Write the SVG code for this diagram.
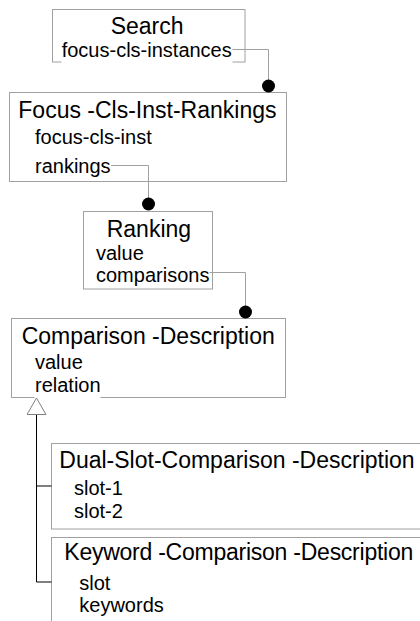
<svg xmlns="http://www.w3.org/2000/svg" width="420" height="621" viewBox="0 0 420 621">
<style>
.box{fill:#fff;stroke:#a0a0a0;stroke-width:1}
.bg{fill:#fff;stroke:none}
.t{font-family:"Liberation Sans",Arial,sans-serif;font-size:23px;fill:#000}
.a{font-family:"Liberation Sans",Arial,sans-serif;font-size:20px;fill:#000}
.conn{fill:none;stroke:#a0a0a0;stroke-width:1}
.inh{fill:none;stroke:#000;stroke-width:1}
</style>
<defs>
<marker id="dot" viewBox="0 0 14 14" refX="7" refY="7" markerWidth="14" markerHeight="14" markerUnits="userSpaceOnUse">
<circle cx="7" cy="7" r="6.5" fill="#000"/>
</marker>
<marker id="tri" viewBox="0 0 18 20" refX="0.5" refY="10" markerWidth="18" markerHeight="20" markerUnits="userSpaceOnUse" orient="auto">
<path d="M0.5 0.5 L17 10 L0.5 19.5 Z" fill="#fff" stroke="#808080" stroke-width="1"/>
</marker>
</defs>
<g id="search">
<rect class="box" x="52.5" y="9.5" width="192.5" height="52.5"/>
<text class="t" x="110.7" y="34.3">Search</text>
<rect class="bg" x="61.5" y="41" width="171" height="22"/>
<text class="a" x="61.7" y="57.3">focus-cls-instances</text>
</g>
<g id="focus-cls-inst-rankings">
<rect class="box" x="9.5" y="92.5" width="277" height="89"/>
<text class="t" x="18.3" y="118.3">Focus -Cls-Inst-Rankings</text>
<text class="a" x="35" y="144.3">focus-cls-inst</text>
<text class="a" x="35" y="173.3">rankings</text>
</g>
<g id="ranking">
<rect class="box" x="83.5" y="211.5" width="129" height="77.5"/>
<text class="t" x="106.7" y="236.7">Ranking</text>
<text class="a" x="96" y="260">value</text>
<text class="a" x="96" y="281.7">comparisons</text>
</g>
<g id="comparison-description">
<rect class="box" x="11.5" y="318.5" width="274" height="79"/>
<text class="t" x="21.7" y="344.3">Comparison -Description</text>
<text class="a" x="35" y="369.3">value</text>
<rect class="bg" x="34.5" y="376" width="66" height="23"/>
<text class="a" x="35" y="391.7">relation</text>
</g>
<g id="dual-slot-comparison-description">
<rect class="box" x="51.5" y="443.5" width="400" height="85.5"/>
<text class="t" x="59.3" y="468.3">Dual-Slot-Comparison -Description</text>
<text class="a" x="74" y="495">slot-1</text>
<text class="a" x="74" y="518.3">slot-2</text>
</g>
<g id="keyword-comparison-description">
<rect class="box" x="51.5" y="537.5" width="400" height="100"/>
<text class="t" x="64.3" y="560" textLength="349" lengthAdjust="spacing">Keyword -Comparison -Description</text>
<text class="a" x="79.3" y="590">slot</text>
<text class="a" x="79.3" y="611.7">keywords</text>
</g>
<g id="connectors">
<path class="conn" d="M232.5 49.5 H268.5 V86" marker-end="url(#dot)"/>
<path class="conn" d="M111 165.5 H148.5 V204" marker-end="url(#dot)"/>
<path class="conn" d="M209.5 272.5 H245.5 V312" marker-end="url(#dot)"/>
<path class="inh" d="M51.5 582 H36.5 V414.5" marker-end="url(#tri)"/>
<path class="inh" d="M36.5 486 H51.5"/>
</g>
</svg>
